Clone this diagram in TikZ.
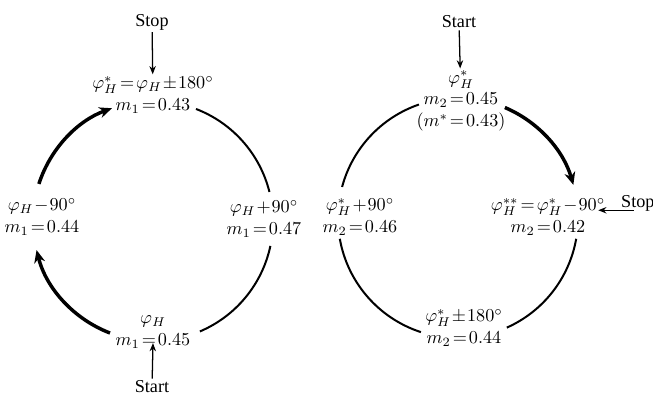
\documentclass[tikz,border=0pt]{standalone}
\usepackage{fontspec}
\setmainfont{Liberation Serif}
\usetikzlibrary{arrows.meta, calc}
\tikzset{
  every picture/.style={x=0.55pt, y=0.55pt},
  lab/.style={align=center, inner sep=1pt, font=\normalsize, execute at begin node={\thickmuskip=2mu\medmuskip=1mu}},
  word/.style={inner sep=1pt, font=\normalsize},
  ring/.style={line width=1.1pt},
  move/.style={line width=1.9pt, -{Stealth[length=7pt, width=6pt]}},
  feed/.style={line width=0.7pt, -{Stealth[length=4.5pt, width=3.5pt]}},
}

\begin{document}
\begin{tikzpicture}
  \useasboundingbox (0,0) rectangle (653,398);
  % left cycle
  \coordinate (cL) at (153,177);
  \node[lab] (topL) at (153,303) {$\varphi_H^*=\varphi_H\pm180^\circ$\\$m_1=0.43$};
  \node[lab] (leftL) at (42,181) {$\varphi_H-90^\circ$\\$m_1=0.44$};
  \node[lab] (rightL) at (264,179) {$\varphi_H+90^\circ$\\$m_1=0.47$};
  \node[lab] (botL) at (153,66) {$\varphi_H$\\$m_1=0.45$};
  \node[word] (stopL) at (152,376) {Stop};
  \node[word] (startL) at (152,11) {Start};
  \draw[move] ($(cL)+(162:120)$) arc[start angle=162, end angle=110, radius=120];
  \draw[ring] ($(cL)+(69:120)$) arc[start angle=69, end angle=14, radius=120];
  \draw[ring] ($(cL)+(-12:120)$) arc[start angle=-12, end angle=-67, radius=120];
  \draw[move] ($(cL)+(-111:120)$) arc[start angle=-111, end angle=-166, radius=120];
  \draw[feed] (stopL) -- (topL);
  \draw[feed] (startL) -- ([yshift=4pt]botL.south);
  % right cycle
  \coordinate (cR) at (458,180);
  \node[lab] (topR) at (461,297) {$\varphi_H^*$\\$m_2=0.45$\\$(m^*=0.43)$};
  \node[lab] (leftR) at (360,181) {$\varphi_H^*+90^\circ$\\$m_2=0.46$};
  \node[lab] (rightR) at (548,181) {$\varphi_H^{**}=\varphi_H^*-90^\circ$\\$m_2=0.42$};
  \node[lab] (botR) at (464,70) {$\varphi_H^*\pm180^\circ$\\$m_2=0.44$};
  \node[word] (startR) at (459,376) {Start};
  \node[word, anchor=west] (stopR) at (619,195) {Stop};
  \draw[ring] ($(cR)+(109:120)$) arc[start angle=109, end angle=165, radius=120];
  \draw[move] ($(cR)+(67:120)$) arc[start angle=67, end angle=16, radius=120];
  \draw[ring] ($(cR)+(-170:120)$) arc[start angle=-170, end angle=-108, radius=120];
  \draw[ring] ($(cR)+(-66:120)$) arc[start angle=-66, end angle=-10, radius=120];
  \draw[feed] (startR) -- (topR);
  \draw[feed] ([xshift=8pt, yshift=-4pt]stopR.west) -- ([xshift=-5pt, yshift=-4pt]stopR.west -| rightR.east);
\end{tikzpicture}
\end{document}
